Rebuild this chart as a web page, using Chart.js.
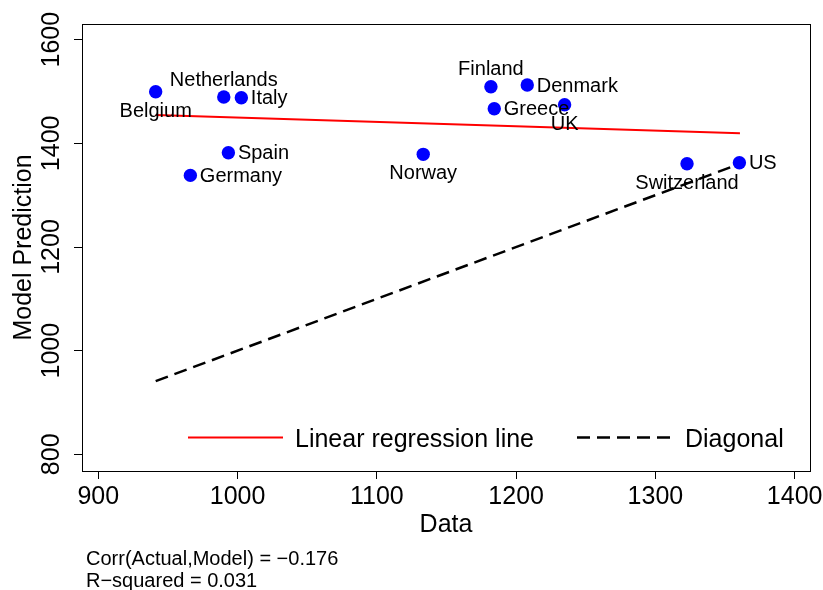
<!DOCTYPE html>
<html>
<head>
<meta charset="utf-8">
<script src="https://cdn.jsdelivr.net/npm/chart.js@4"></script>
<style>
  body { margin: 0; background: #fff; }
  #wrap { width: 823px; height: 590px; }
</style>
</head>
<body>
<div id="wrap"><canvas id="fitChart"></canvas></div>
<script>
// values
const countries = ['Belgium', 'Netherlands', 'Italy', 'Spain', 'Germany', 'Norway',
                   'Finland', 'Denmark', 'Greece', 'UK', 'Switzerland', 'US'];
const actual = [941.2, 990.1, 1002.7, 993.4, 966.1, 1133.3, 1181.9, 1208.0, 1184.3, 1234.8, 1322.7, 1360.3];
const predicted = [1499.6, 1489.4, 1488.0, 1381.8, 1338.2, 1378.8, 1509.3, 1512.5, 1466.8, 1474.5, 1360.6, 1362.6];
// label side for each point (R style: 1 below, 3 above, 4 right)
const labelPos = [1, 3, 4, 4, 4, 1, 3, 4, 4, 1, 1, 4];

const regX = [941.2, 1360.7];
const regY = [1454.6, 1419.3];
const diagX = [941.2, 1360.3];
const diagY = [941.2, 1360.3];

const xTicks = [900, 1000, 1100, 1200, 1300, 1400];
const yTicks = [800, 1000, 1200, 1400, 1600];

const statLines = ['Corr(Actual,Model) = \u22120.176', 'R\u2212squared = 0.031'];

const FONT = "'Liberation Sans', Arial, Helvetica, sans-serif";

// box around plot region
const framePlugin = {
    id: 'frame',
    afterDatasetsDraw(chart) {
        const { ctx, chartArea: a } = chart;
        ctx.save();
        ctx.strokeStyle = '#000';
        ctx.lineWidth = 1;
        ctx.strokeRect(Math.round(a.left) + 0.5, Math.round(a.top) + 0.5,
                       Math.round(a.right - a.left), Math.round(a.bottom - a.top));
        ctx.restore();
    }
};

// country names next to the points
const pointLabels = {
    id: 'pointLabels',
    afterDatasetsDraw(chart) {
        const { ctx } = chart;
        const pts = chart.getDatasetMeta(0).data;
        ctx.save();
        ctx.font = '20px ' + FONT;
        ctx.fillStyle = '#000';
        ctx.textBaseline = 'middle';
        pts.forEach((p, i) => {
            const pos = labelPos[i];
            if (pos === 1) {
                ctx.textAlign = 'center';
                ctx.fillText(countries[i], p.x, p.y + 19.5);
            } else if (pos === 3) {
                ctx.textAlign = 'center';
                ctx.fillText(countries[i], p.x, p.y - 17);
            } else {
                ctx.textAlign = 'left';
                ctx.fillText(countries[i], p.x + 9.5, p.y + 1);
            }
        });
        ctx.restore();
    }
};

// legend inside the plot and the stats text underneath
const extras = {
    id: 'extras',
    afterDraw(chart) {
        const { ctx, chartArea: a } = chart;
        const ds = chart.data.datasets;
        const ly = a.bottom - 33.5;
        ctx.save();
        ctx.font = '25px ' + FONT;
        ctx.fillStyle = '#000';
        ctx.textBaseline = 'alphabetic';
        ctx.textAlign = 'left';

        ctx.strokeStyle = ds[1].borderColor;
        ctx.lineWidth = ds[1].borderWidth;
        ctx.beginPath();
        ctx.moveTo(a.left + 106, ly);
        ctx.lineTo(a.left + 201, ly);
        ctx.stroke();
        ctx.fillText(ds[1].label, a.left + 213, a.bottom - 24.5);

        ctx.strokeStyle = ds[2].borderColor;
        ctx.lineWidth = ds[2].borderWidth;
        ctx.setLineDash(ds[2].borderDash);
        ctx.beginPath();
        ctx.moveTo(a.left + 495, ly);
        ctx.lineTo(a.left + 592, ly);
        ctx.stroke();
        ctx.setLineDash([]);
        ctx.fillText(ds[2].label, a.left + 603, a.bottom - 24.5);

        ctx.font = '20px ' + FONT;
        ctx.fillText(statLines[0], a.left + 4, 565);
        ctx.fillText(statLines[1], a.left + 4, 586.5);
        ctx.restore();
    }
};

new Chart(document.getElementById('fitChart'), {
    type: 'scatter',
    data: {
        datasets: [
            {
                label: 'Countries',
                data: actual.map((v, i) => ({ x: v, y: predicted[i] })),
                backgroundColor: '#0000ff',
                borderWidth: 0,
                pointRadius: 6.7
            },
            {
                label: 'Linear regression line',
                data: regX.map((v, i) => ({ x: v, y: regY[i] })),
                showLine: true,
                borderColor: '#ff0000',
                borderWidth: 2,
                pointRadius: 0
            },
            {
                label: 'Diagonal',
                data: diagX.map((v, i) => ({ x: v, y: diagY[i] })),
                showLine: true,
                borderColor: '#000000',
                borderWidth: 2.5,
                borderDash: [13, 7],
                pointRadius: 0
            }
        ]
    },
    options: {
        responsive: true,
        maintainAspectRatio: false,
        animation: false,
        layout: { padding: { top: 24, right: 13, bottom: 43, left: 0 } },
        plugins: {
            legend: { display: false },
            tooltip: { enabled: false }
        },
        scales: {
            x: {
                type: 'linear',
                min: 888.3,
                max: 1411,
                afterBuildTicks: s => { s.ticks = xTicks.map(v => ({ value: v })); },
                afterFit: s => { s.height = 76; s.paddingLeft = 0; s.paddingRight = 0; },
                grid: { display: true, drawOnChartArea: false, drawTicks: true, tickLength: 8, color: '#000', lineWidth: 1 },
                border: { display: true, color: '#000', width: 1 },
                ticks: { color: '#000', font: { family: FONT, size: 25 }, padding: 3, maxRotation: 0, callback: v => String(v) },
                title: { display: true, text: 'Data', color: '#000', font: { family: FONT, size: 25 }, padding: { top: 0, bottom: 7 } }
            },
            y: {
                type: 'linear',
                min: 767.8,
                max: 1630.3,
                afterBuildTicks: s => { s.ticks = yTicks.map(v => ({ value: v })); },
                afterFit: s => { s.width = 82; s.paddingTop = 0; s.paddingBottom = 0; },
                grid: { display: true, drawOnChartArea: false, drawTicks: true, tickLength: 8, color: '#000', lineWidth: 1 },
                border: { display: true, color: '#000', width: 1 },
                ticks: { color: '#000', font: { family: FONT, size: 25 }, padding: -6, minRotation: 90, maxRotation: 90, crossAlign: 'center', callback: v => String(v) },
                title: { display: true, text: 'Model Prediction', color: '#000', font: { family: FONT, size: 25 }, padding: { top: 9, bottom: 0 } }
            }
        }
    },
    plugins: [framePlugin, pointLabels, extras]
});
</script>
</body>
</html>
